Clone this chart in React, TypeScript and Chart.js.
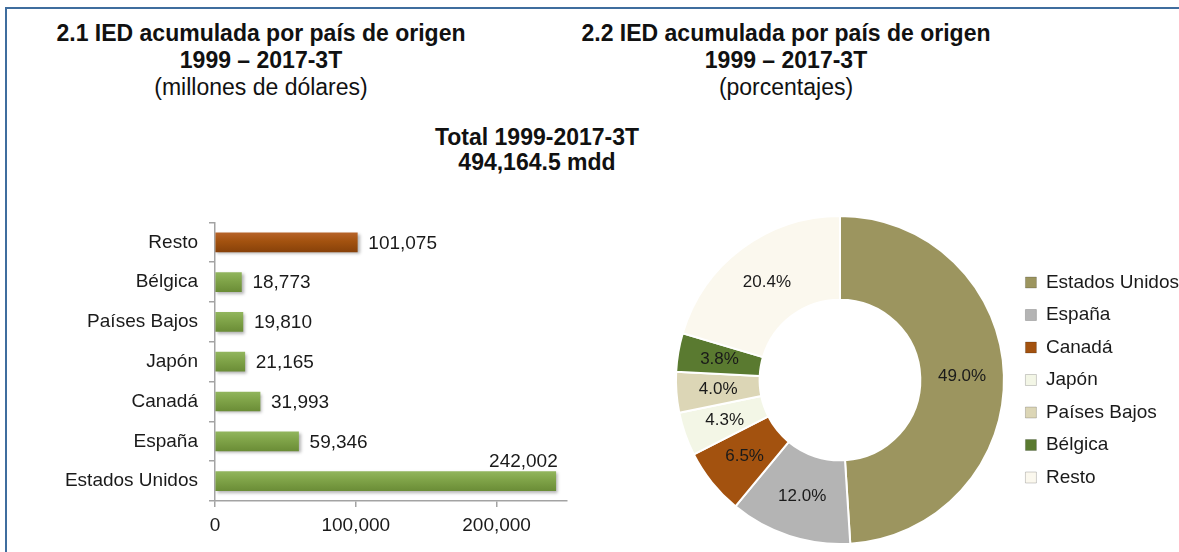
import React, { useEffect, useRef } from 'react';
import { Chart, registerables } from 'chart.js';

Chart.register(...registerables);

// ---------- data ----------
const barCategories = ['Resto', 'Bélgica', 'Países Bajos', 'Japón', 'Canadá', 'España', 'Estados Unidos'];
const barValues = [101075, 18773, 19810, 21165, 31993, 59346, 242002];
const xTickValues = [0, 100000, 200000];
const xMax = 250000;

const pieCategories = ['Estados Unidos', 'España', 'Canadá', 'Japón', 'Países Bajos', 'Bélgica', 'Resto'];
const pieShares = [49.0, 12.0, 6.5, 4.3, 4.0, 3.8, 20.4];
const pieColors = ['#9c955f', '#b4b4b4', '#a3520f', '#f3f6e6', '#dcd6b6', '#5a7a30', '#fbf8ee'];

const title1 = ['2.1 IED acumulada por país de origen', '1999 – 2017-3T', '(millones de dólares)'];
const title2 = ['2.2 IED acumulada por país de origen', '1999 – 2017-3T', '(porcentajes)'];
const totalLines = ['Total 1999-2017-3T', '494,164.5 mdd'];

// ---------- styles ----------
const FONT = '"Liberation Sans", Arial, Helvetica, sans-serif';
const AXIS = '#a3a3a3';
const TEXT = '#1a1a1a';

const barShadow = {
  id: 'barShadow',
  beforeDatasetsDraw(chart: any) {
    const ctx = chart.ctx;
    ctx.save();
    ctx.shadowColor = 'rgba(0,0,0,0.30)';
    ctx.shadowBlur = 3;
    ctx.shadowOffsetX = 2;
    ctx.shadowOffsetY = 2;
  },
  afterDatasetsDraw(chart: any) {
    chart.ctx.restore();
  },
};

const barLabels = {
  id: 'barLabels',
  afterDatasetsDraw(chart: any) {
    const ctx = chart.ctx;
    const meta = chart.getDatasetMeta(0);
    ctx.save();
    ctx.font = `19px ${FONT}`;
    ctx.fillStyle = TEXT;
    ctx.textBaseline = 'middle';
    meta.data.forEach((bar: any, i: number) => {
      const txt = barValues[i].toLocaleString('en-US');
      const w = ctx.measureText(txt).width;
      const { x, y, height } = bar.getProps(['x', 'y', 'height'], true);
      if (x + 11 + w > chart.width) {
        ctx.textAlign = 'right';
        ctx.fillText(txt, x + 2, y - height / 2 - 10);
      } else {
        ctx.textAlign = 'left';
        ctx.fillText(txt, x + 11, y + 1);
      }
    });
    ctx.restore();
  },
};

const pieLabels = {
  id: 'pieLabels',
  afterDatasetsDraw(chart: any) {
    const ctx = chart.ctx;
    const meta = chart.getDatasetMeta(0);
    ctx.save();
    ctx.font = `17px ${FONT}`;
    ctx.fillStyle = TEXT;
    ctx.textAlign = 'center';
    ctx.textBaseline = 'middle';
    meta.data.forEach((arc: any, i: number) => {
      const p = arc.tooltipPosition(true);
      ctx.fillText(pieShares[i].toFixed(1) + '%', p.x, p.y);
    });
    ctx.restore();
  },
};

function barFill(c: any) {
  const isRest = c.dataIndex === 0;
  const base = isRest ? '#a3520f' : '#7ea248';
  const chart = c.chart;
  const ys = chart.scales && chart.scales.y;
  if (!ys || c.dataIndex === undefined) return base;
  const yc = ys.getPixelForValue(c.dataIndex);
  if (!Number.isFinite(yc)) return base;
  const g = chart.ctx.createLinearGradient(0, yc - 10, 0, yc + 10);
  if (isRest) {
    g.addColorStop(0, '#b8642a');
    g.addColorStop(0.45, '#a3520f');
    g.addColorStop(1, '#874109');
  } else {
    g.addColorStop(0, '#92b65e');
    g.addColorStop(0.45, '#7fa348');
    g.addColorStop(1, '#6a8c36');
  }
  return g;
}

export default function App() {
  const barRef = useRef<HTMLCanvasElement>(null);
  const pieRef = useRef<HTMLCanvasElement>(null);

  useEffect(() => {
    const tickFont = { family: FONT, size: 19 };
    const bar = new Chart(barRef.current as HTMLCanvasElement, {
      type: 'bar',
      data: {
        labels: barCategories,
        datasets: [
          {
            data: barValues,
            backgroundColor: barFill as any,
            borderWidth: 0,
            barThickness: 19,
          },
        ],
      },
      options: {
        indexAxis: 'y',
        animation: false,
        responsive: false,
        devicePixelRatio: 1,
        layout: { padding: { top: 20, right: 33, left: 0, bottom: 0 } },
        plugins: { legend: { display: false }, tooltip: { enabled: false } },
        scales: {
          x: {
            min: 0,
            max: xMax,
            afterBuildTicks: (s: any) => {
              s.ticks = xTickValues.map((v) => ({ value: v }));
            },
            afterFit: (s: any) => {
              s.height = 51;
            },
            grid: { drawOnChartArea: false, drawTicks: true, tickLength: 6, color: AXIS, lineWidth: 1.5 },
            border: { color: AXIS, width: 1.5 },
            ticks: {
              font: tickFont,
              color: TEXT,
              padding: 7,
              autoSkip: false,
              maxRotation: 0,
              callback: (v: any) => Number(v).toLocaleString('en-US'),
            },
          },
          y: {
            afterFit: (s: any) => {
              s.width = 215;
            },
            grid: { drawOnChartArea: false, drawTicks: true, tickLength: 6, color: AXIS, lineWidth: 1.5 },
            border: { color: AXIS, width: 1.5 },
            ticks: { font: tickFont, color: TEXT, padding: 11, autoSkip: false },
          },
        },
      } as any,
      plugins: [barShadow, barLabels],
    });

    const baseGen = (Chart as any).overrides.doughnut.plugins.legend.labels.generateLabels;
    const pie = new Chart(pieRef.current as HTMLCanvasElement, {
      type: 'doughnut',
      data: {
        labels: pieCategories,
        datasets: [
          {
            data: pieShares,
            backgroundColor: pieColors,
            borderColor: '#ffffff',
            borderWidth: 2,
          },
        ],
      },
      options: {
        animation: false,
        responsive: false,
        devicePixelRatio: 1,
        cutout: '49%',
        layout: { padding: 0 },
        plugins: {
          tooltip: { enabled: false },
          legend: {
            position: 'right',
            align: 'center',
            labels: {
              boxWidth: 11,
              boxHeight: 11,
              padding: 13.5,
              color: TEXT,
              font: { family: FONT, size: 19 },
              generateLabels: (chart: any) =>
                baseGen(chart).map((it: any) => ({ ...it, lineWidth: 1, strokeStyle: 'rgba(0,0,0,0.18)' })),
            },
          },
        },
      } as any,
      plugins: [pieLabels],
    });

    return () => {
      bar.destroy();
      pie.destroy();
    };
  }, []);

  const titleStyle = (left: number, width: number, top: number): React.CSSProperties => ({
    position: 'absolute',
    left,
    width,
    top,
    textAlign: 'center',
    fontFamily: FONT,
    fontSize: 23,
    lineHeight: '27px',
    color: '#111',
    whiteSpace: 'nowrap',
  });

  return (
    <div
      style={{
        position: 'fixed',
        left: 0,
        top: 0,
        width: 1179,
        height: 552,
        overflow: 'hidden',
        background: '#ffffff',
      }}
    >
      <div
        style={{
          position: 'absolute',
          left: 5,
          top: 7,
          right: -10,
          bottom: -10,
          borderTop: '2px solid #3f6d9e',
          borderLeft: '2px solid #3f6d9e',
        }}
      />
      <div style={titleStyle(11, 500, 20)}>
        <div style={{ fontWeight: 'bold' }}>{title1[0]}</div>
        <div style={{ fontWeight: 'bold' }}>{title1[1]}</div>
        <div>{title1[2]}</div>
      </div>
      <div style={titleStyle(536, 500, 20)}>
        <div style={{ fontWeight: 'bold' }}>{title2[0]}</div>
        <div style={{ fontWeight: 'bold' }}>{title2[1]}</div>
        <div>{title2[2]}</div>
      </div>
      <div style={{ ...titleStyle(337, 400, 125), lineHeight: '25px', fontWeight: 'bold' }}>
        <div>{totalLines[0]}</div>
        <div>{totalLines[1]}</div>
      </div>
      <canvas
        ref={barRef}
        width={600}
        height={352}
        style={{ position: 'absolute', left: 0, top: 200, width: 600, height: 352 }}
      />
      <canvas
        ref={pieRef}
        width={521}
        height={330}
        style={{ position: 'absolute', left: 668, top: 215, width: 521, height: 330 }}
      />
    </div>
  );
}
